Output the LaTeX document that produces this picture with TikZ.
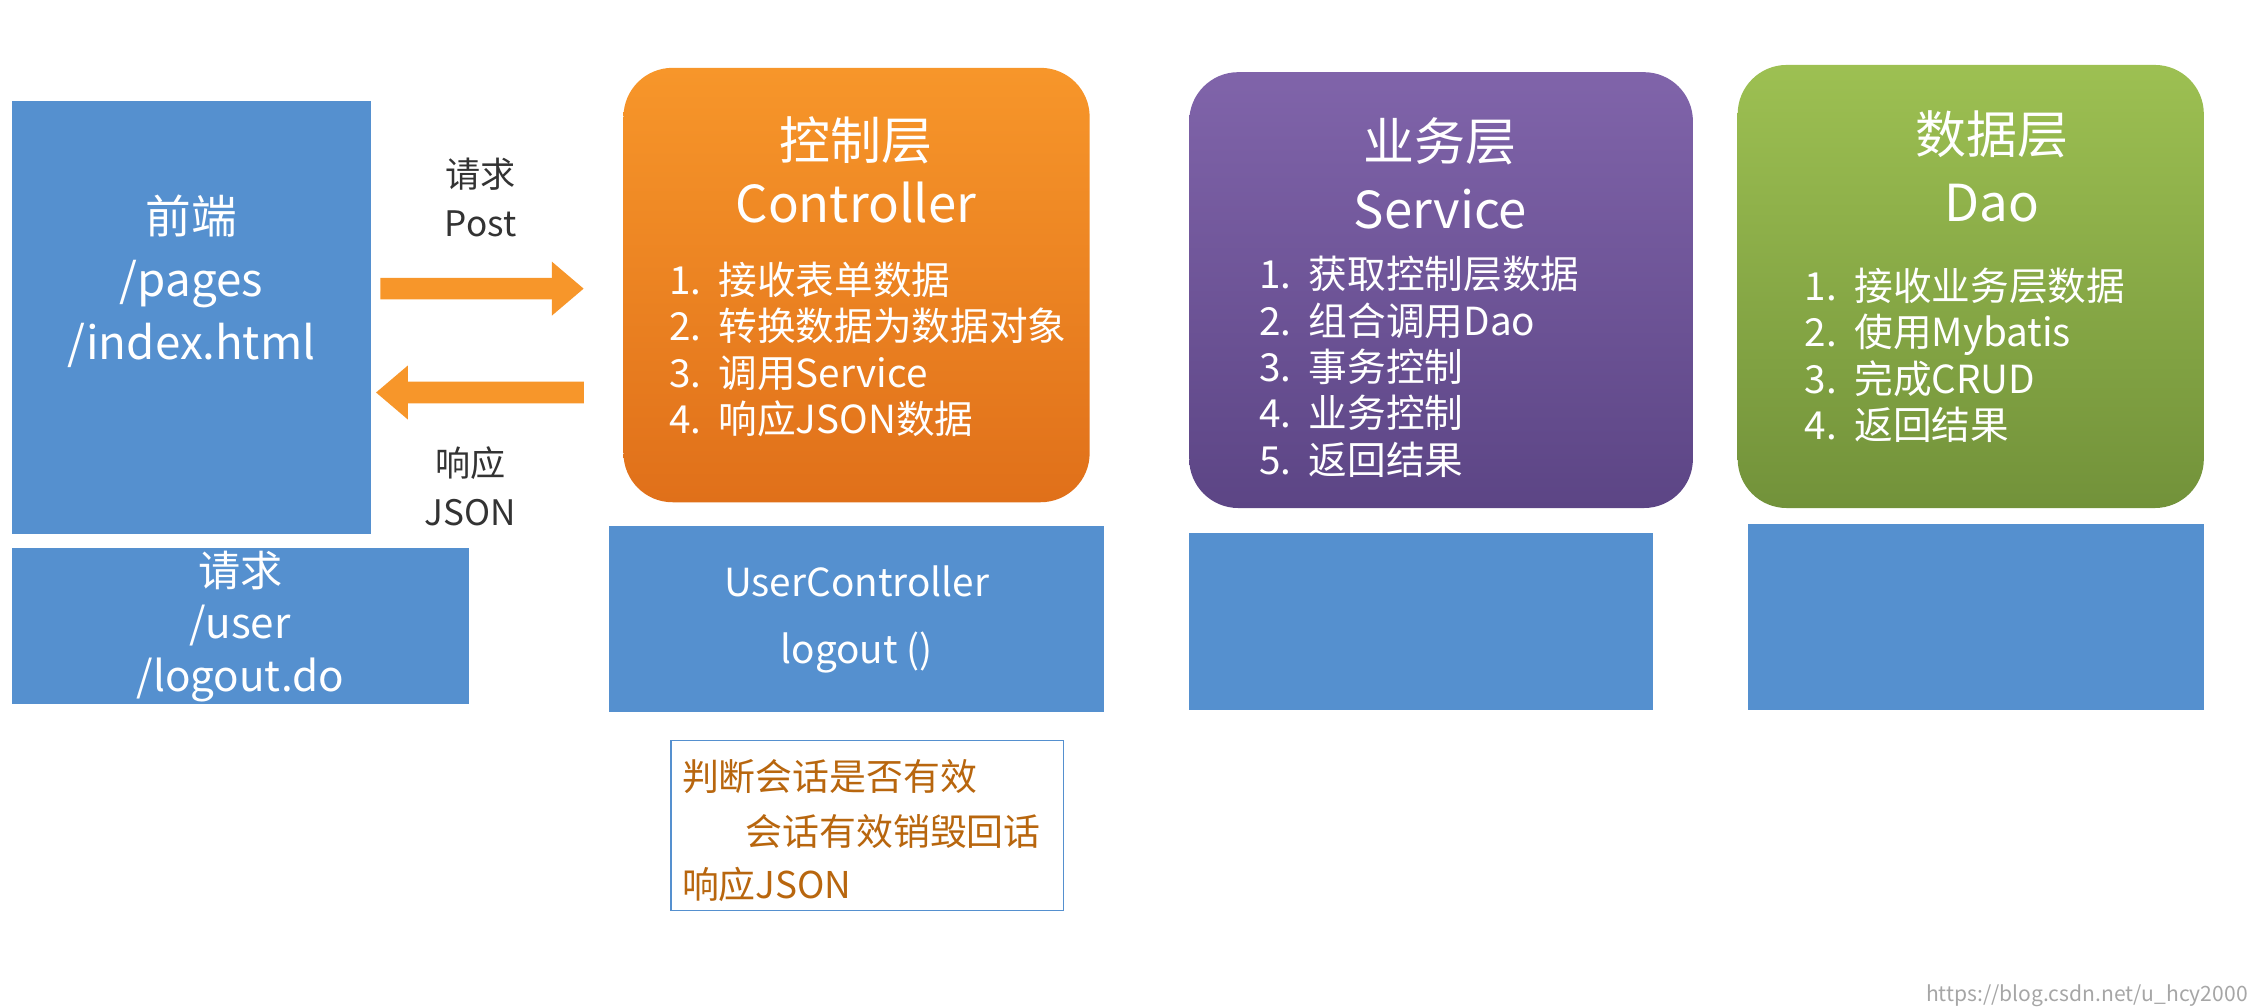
\documentclass[tikz,border=0pt]{standalone}
\usepackage{fontspec}
\setmainfont{Noto Sans CJK SC}
\usetikzlibrary{arrows.meta}
\newlength\pxu
\setlength\pxu{0.01443cm}
\definecolor{blockblue}{HTML}{5590CF}
\definecolor{flowor}{HTML}{F7962A}
\definecolor{ctrlbot}{HTML}{E0701A}
\definecolor{svctop}{HTML}{8064AA}
\definecolor{svcbot}{HTML}{5C4585}
\definecolor{daotop}{HTML}{9DC052}
\definecolor{daobot}{HTML}{72923A}
\definecolor{notetext}{HTML}{B8660E}
\definecolor{labgray}{HTML}{333333}
\begin{document}
\begin{tikzpicture}
[
x=0.01443cm, y=-0.01443cm,
blockbox/.style={rectangle, fill=blockblue, text=white, align=center, inner sep=0pt,
  font=\fontsize{12}{15}\selectfont},
layer/.style={rectangle, rounded corners=34\pxu, text=white, inner sep=0pt},
title-a/.style={text=white, font=\fontsize{14.5}{18}\selectfont},
list-a/.style={text=white, align=left, anchor=north west, font=\fontsize{11}{13.2}\selectfont},
flow/.style={flowor, line width=15\pxu, -{Triangle[length=0.32cm, width=0.52cm]}},
lab-a/.style={text=labgray, align=center, font=\fontsize{10}{14}\selectfont},
note-a/.style={text=notetext, anchor=west, font=\fontsize{10.5}{13}\selectfont},
]
\useasboundingbox (0,0) rectangle (1568,698);
% front end
\node (front) [blockbox, minimum width=249\pxu, minimum height=300\pxu] at (132.5,220) {};
\node (frontt) [text=white, align=center, font=\fontsize{13}{18}\selectfont] at (132.5,195) {前端\\/pages\\/index.html};
\node (req)   [blockbox, minimum width=317\pxu, minimum height=108\pxu] at (166.5,434) {请求\\/user\\/logout.do};
% layers
\node (ctrl) [layer, top color=flowor, bottom color=ctrlbot, minimum width=323\pxu, minimum height=301\pxu] at (593.5,197.5) {};
\node (svc)  [layer, top color=svctop, bottom color=svcbot, minimum width=349\pxu, minimum height=302\pxu] at (998.5,201) {};
\node (dao)  [layer, top color=daotop, bottom color=daobot, minimum width=323\pxu, minimum height=307\pxu] at (1365.5,198.5) {};
\node (ctrlt) [title-a] at (593,97)  {控制层};
\node (ctrle) [title-a] at (593,140) {Controller};
\node (svct)  [title-a] at (998,98)  {业务层};
\node (svce)  [title-a] at (998,145) {Service};
\node (daot)  [title-a] at (1380,93) {数据层};
\node (daoe)  [title-a] at (1380,141) {Dao};
\node (ctrll) [list-a] at (455,173) {1.\ \ 接收表单数据\\2.\ \ 转换数据为数据对象\\3.\ \ 调用Service\\4.\ \ 响应JSON数据};
\node (svcl)  [list-a] at (864,169) {1.\ \ 获取控制层数据\\2.\ \ 组合调用Dao\\3.\ \ 事务控制\\4.\ \ 业务控制\\5.\ \ 返回结果};
\node (daol)  [list-a] at (1242,177) {1.\ \ 接收业务层数据\\2.\ \ 使用Mybatis\\3.\ \ 完成CRUD\\4.\ \ 返回结果};
% lower blocks
\node (ctrlb) [blockbox, minimum width=343\pxu, minimum height=129\pxu, font=\fontsize{11}{19}\selectfont] at (593.5,429) {UserController\\logout ()};
\node (svcb)  [blockbox, minimum width=321\pxu, minimum height=123\pxu] at (984.5,430.5) {};
\node (daob)  [blockbox, minimum width=316\pxu, minimum height=129\pxu] at (1369,427.5) {};
% note
\node (note) [rectangle, draw=blockblue, fill=white, minimum width=272\pxu, minimum height=118\pxu] at (601,572) {};
\node (n1) [note-a] at (464,538) {判断会话是否有效};
\node (n2) [note-a] at (508,576) {会话有效销毁回话};
\node (n3) [note-a] at (464,613) {响应JSON};
% arrows
\draw [flow] ([yshift=0.289cm, xshift=0.087cm]front.east) -- ([yshift=-0.036cm, xshift=-0.39cm]ctrl.west);
\draw [flow] ([yshift=-1.075cm, xshift=-0.39cm]ctrl.west) -- ([yshift=-0.75cm, xshift=0.043cm]front.east);
\node (postl) [lab-a] at (333,137) {请求\\Post};
\node (jsonl) [lab-a] at (326,337) {响应\\JSON};
\node (wm) [text=gray!70, font=\fontsize{6}{7}\selectfont, anchor=east] at (1566,690) {https://blog.csdn.net/u\_hcy2000};
\end{tikzpicture}
\end{document}
